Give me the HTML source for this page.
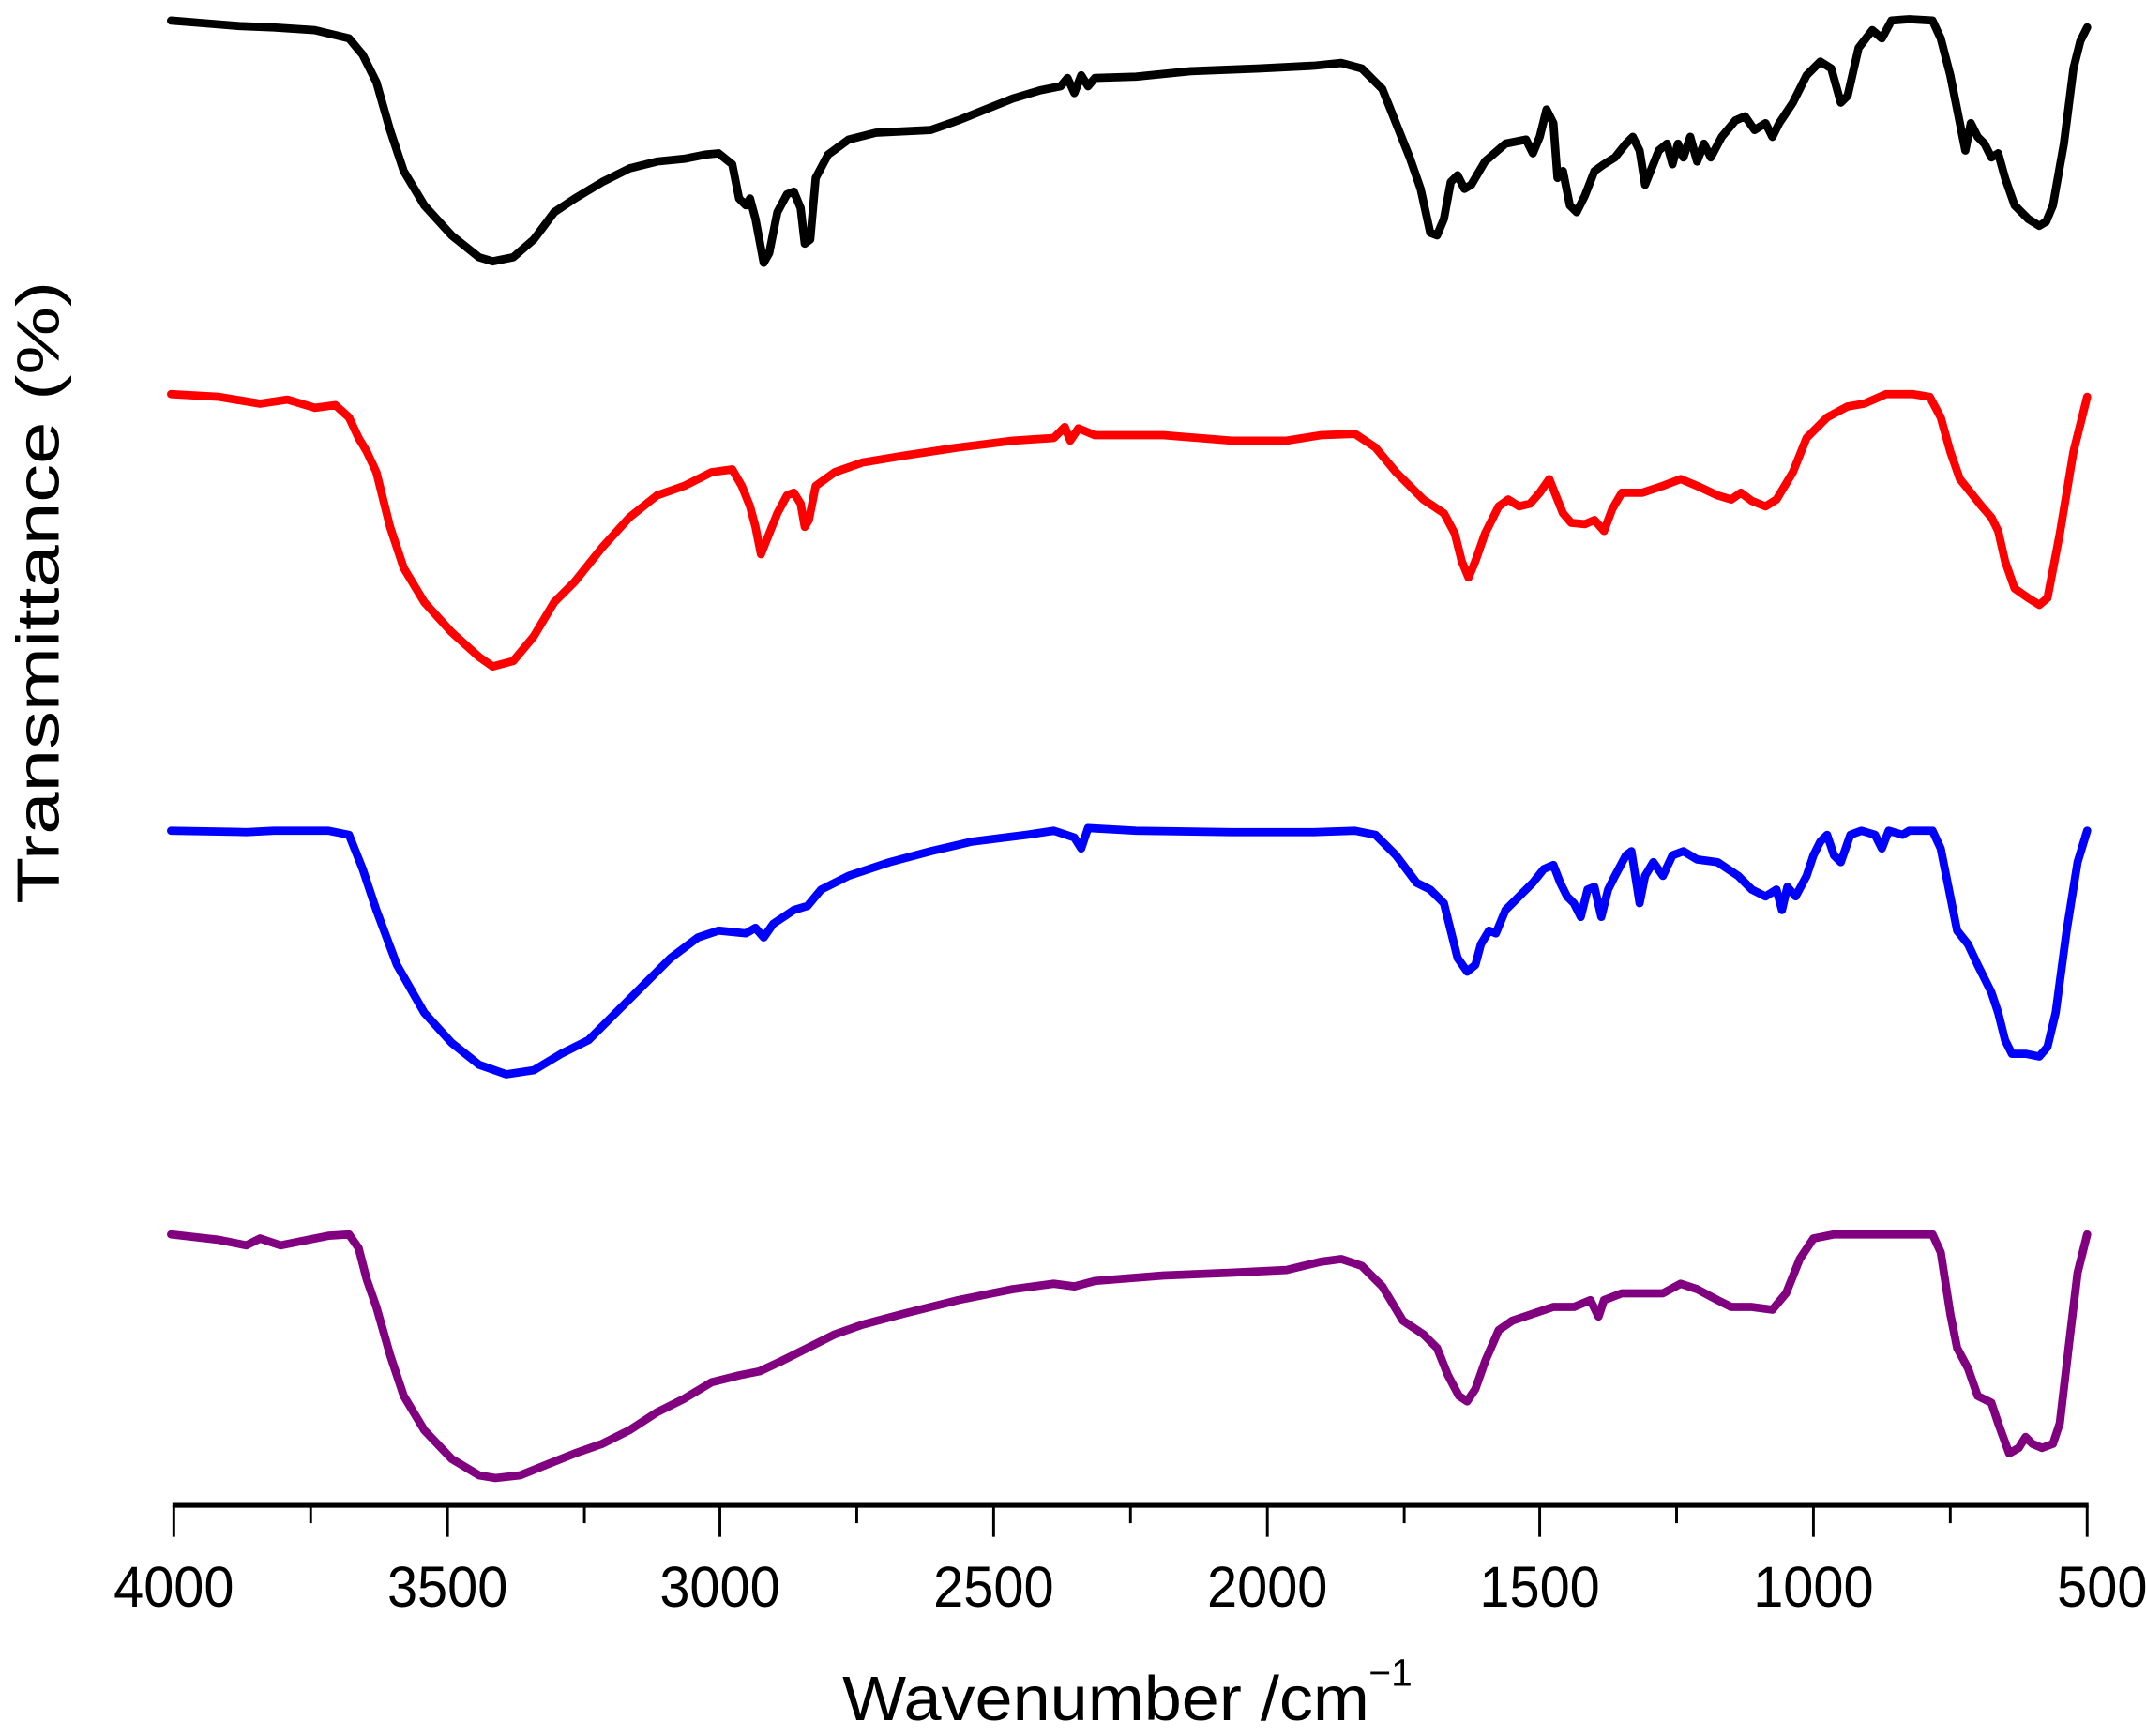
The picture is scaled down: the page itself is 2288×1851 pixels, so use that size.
<!DOCTYPE html>
<html><head><meta charset="utf-8"><style>html,body{margin:0;padding:0;background:#fff}svg{display:block}</style></head>
<body>
<svg xmlns="http://www.w3.org/2000/svg" width="2288" height="1851" viewBox="0 0 1568 1268.5">
<rect width="1568" height="1268.5" fill="#fff"/>
<g fill="none" stroke-width="6" stroke-linejoin="round" stroke-linecap="round">
<polyline stroke="#000" points="125,15 150,17 175,19 200,20 230,22 255,28 265,40 275,60 285,95 295,125 310,150 330,172 350,188 360,191 375,188 390,175 405,155 420,145 440,133 460,123 480,118 500,116 515,113 525,112 535,120 540,145 545,150 548,145 552,160 558,192 562,185 568,155 575,142 580,140 585,152 588,178 592,175 596,130 605,113 620,102 640,97 680,95 700,88 720,80 740,72 760,66 775,63 780,57 785,68 790,55 795,63 800,57 830,56 870,52 920,50 960,48 980,46 995,50 1010,65 1020,90 1030,115 1038,138 1045,170 1050,172 1055,160 1060,133 1065,128 1070,138 1075,135 1085,118 1100,105 1115,102 1120,112 1125,100 1130,80 1135,90 1138,130 1142,125 1147,150 1152,155 1158,143 1165,125 1172,120 1180,115 1188,105 1193,100 1198,110 1202,135 1206,125 1212,110 1218,105 1222,120 1226,105 1230,115 1235,100 1240,118 1245,105 1250,115 1258,100 1268,88 1275,85 1282,95 1290,90 1295,100 1300,90 1310,75 1320,55 1330,45 1338,50 1345,75 1350,70 1358,35 1368,22 1375,28 1382,15 1395,14 1412,15 1418,28 1425,55 1432,90 1436,110 1440,90 1445,100 1450,105 1455,115 1460,112 1465,130 1472,150 1482,160 1490,165 1495,162 1500,150 1508,105 1515,50 1520,30 1525,20"/>
<polyline stroke="#ff0000" points="125,288 160,290 190,295 210,292 230,298 245,296 255,305 262,320 268,330 275,345 285,385 295,415 310,440 330,462 350,480 360,487 375,483 390,465 405,440 420,425 440,400 460,378 480,362 500,355 520,345 535,343 542,355 548,370 552,385 556,405 560,395 568,375 575,362 580,360 585,368 588,385 591,380 596,355 610,345 630,338 660,333 700,327 740,322 770,320 778,312 782,322 788,313 800,318 850,318 900,322 940,322 965,318 990,317 1005,327 1020,345 1040,365 1055,375 1063,390 1068,410 1073,422 1078,410 1085,390 1095,370 1102,365 1110,370 1118,368 1125,360 1132,350 1136,360 1142,375 1148,382 1158,383 1165,380 1172,388 1178,372 1185,360 1200,360 1215,355 1228,350 1240,355 1255,362 1265,365 1272,360 1280,366 1290,370 1298,365 1310,345 1320,320 1335,305 1350,297 1362,295 1378,288 1398,288 1410,290 1418,305 1425,330 1432,350 1440,360 1448,370 1455,378 1460,388 1465,410 1472,430 1482,437 1490,442 1496,437 1505,390 1515,330 1525,290"/>
<polyline stroke="#0000ff" points="125,607 180,608 200,607 240,607 255,610 265,635 275,665 290,705 310,740 330,762 350,778 370,785 390,782 410,770 430,760 450,740 470,720 490,700 510,685 525,680 545,682 552,678 558,685 565,675 580,665 590,662 600,650 620,640 650,630 680,622 710,615 750,610 770,607 785,612 790,620 795,605 830,607 900,608 960,608 990,607 1005,610 1020,625 1035,645 1045,650 1055,660 1060,680 1065,700 1072,710 1078,705 1082,690 1088,680 1093,682 1100,665 1110,655 1120,645 1128,635 1135,632 1140,645 1145,655 1150,660 1155,670 1160,650 1165,648 1170,670 1175,650 1180,640 1188,625 1192,622 1198,660 1202,640 1208,630 1215,640 1222,625 1230,622 1240,628 1255,630 1270,640 1280,650 1290,655 1298,650 1302,665 1306,648 1312,655 1320,640 1325,625 1330,615 1335,610 1340,625 1345,630 1352,610 1360,607 1370,610 1375,620 1380,607 1390,610 1395,607 1412,607 1418,620 1425,655 1430,680 1438,690 1445,705 1450,715 1455,725 1460,740 1465,760 1470,770 1480,770 1490,772 1496,765 1502,740 1510,680 1518,630 1525,607"/>
<polyline stroke="#800080" points="125,902 160,906 180,910 190,905 205,910 230,905 240,903 255,902 262,912 268,935 275,955 285,990 295,1020 310,1045 330,1066 350,1078 362,1080 380,1078 400,1070 420,1062 440,1055 460,1045 480,1032 500,1022 520,1010 540,1005 555,1002 570,995 590,985 610,975 630,968 660,960 700,950 740,942 770,938 785,940 800,936 850,932 900,930 940,928 965,922 980,920 995,925 1010,940 1025,965 1040,975 1050,985 1058,1005 1066,1020 1072,1024 1078,1015 1085,995 1095,972 1105,965 1120,960 1135,955 1150,955 1162,950 1168,962 1172,950 1185,945 1200,945 1215,945 1228,938 1240,942 1255,950 1265,955 1280,955 1295,957 1305,945 1315,920 1325,905 1340,902 1380,902 1412,902 1418,915 1425,960 1430,985 1438,1000 1445,1020 1455,1025 1460,1040 1468,1062 1475,1058 1480,1050 1485,1055 1492,1058 1500,1055 1505,1040 1512,980 1518,930 1525,902"/>
</g>
<line x1="126" y1="1100" x2="1526" y2="1100" stroke="#000" stroke-width="3.5"/>
<g stroke="#000" stroke-width="2">
<line x1="127" y1="1100" x2="127" y2="1123"/><line x1="227" y1="1100" x2="227" y2="1113"/>
<line x1="327" y1="1100" x2="327" y2="1123"/><line x1="427" y1="1100" x2="427" y2="1113"/>
<line x1="526" y1="1100" x2="526" y2="1123"/><line x1="626" y1="1100" x2="626" y2="1113"/>
<line x1="726" y1="1100" x2="726" y2="1123"/><line x1="826" y1="1100" x2="826" y2="1113"/>
<line x1="926" y1="1100" x2="926" y2="1123"/><line x1="1026" y1="1100" x2="1026" y2="1113"/>
<line x1="1125" y1="1100" x2="1125" y2="1123"/><line x1="1225" y1="1100" x2="1225" y2="1113"/>
<line x1="1325" y1="1100" x2="1325" y2="1123"/><line x1="1425" y1="1100" x2="1425" y2="1113"/>
<line x1="1525" y1="1100" x2="1525" y2="1123"/>
</g>
<g font-family="Liberation Sans, Arial, sans-serif" font-size="42" text-anchor="middle" fill="#000">
<text x="127" y="1174" textLength="88" lengthAdjust="spacingAndGlyphs">4000</text>
<text x="327" y="1174" textLength="88" lengthAdjust="spacingAndGlyphs">3500</text>
<text x="526" y="1174" textLength="88" lengthAdjust="spacingAndGlyphs">3000</text>
<text x="726" y="1174" textLength="88" lengthAdjust="spacingAndGlyphs">2500</text>
<text x="926" y="1174" textLength="88" lengthAdjust="spacingAndGlyphs">2000</text>
<text x="1125" y="1174" textLength="88" lengthAdjust="spacingAndGlyphs">1500</text>
<text x="1325" y="1174" textLength="88" lengthAdjust="spacingAndGlyphs">1000</text>
<text x="1536" y="1174" textLength="66" lengthAdjust="spacingAndGlyphs">500</text>
</g>
<text x="808" y="1257" font-family="Liberation Sans, Arial, sans-serif" font-size="46" text-anchor="middle" textLength="385" lengthAdjust="spacingAndGlyphs">Wavenumber /cm</text>
<text x="1016" y="1232" font-family="Liberation Sans, Arial, sans-serif" font-size="28" text-anchor="middle">−1</text>
<text transform="translate(43,433) rotate(-90)" font-family="Liberation Sans, Arial, sans-serif" font-size="44" text-anchor="middle" textLength="455" lengthAdjust="spacingAndGlyphs">Transmittance (%)</text>
</svg>
</body></html>
